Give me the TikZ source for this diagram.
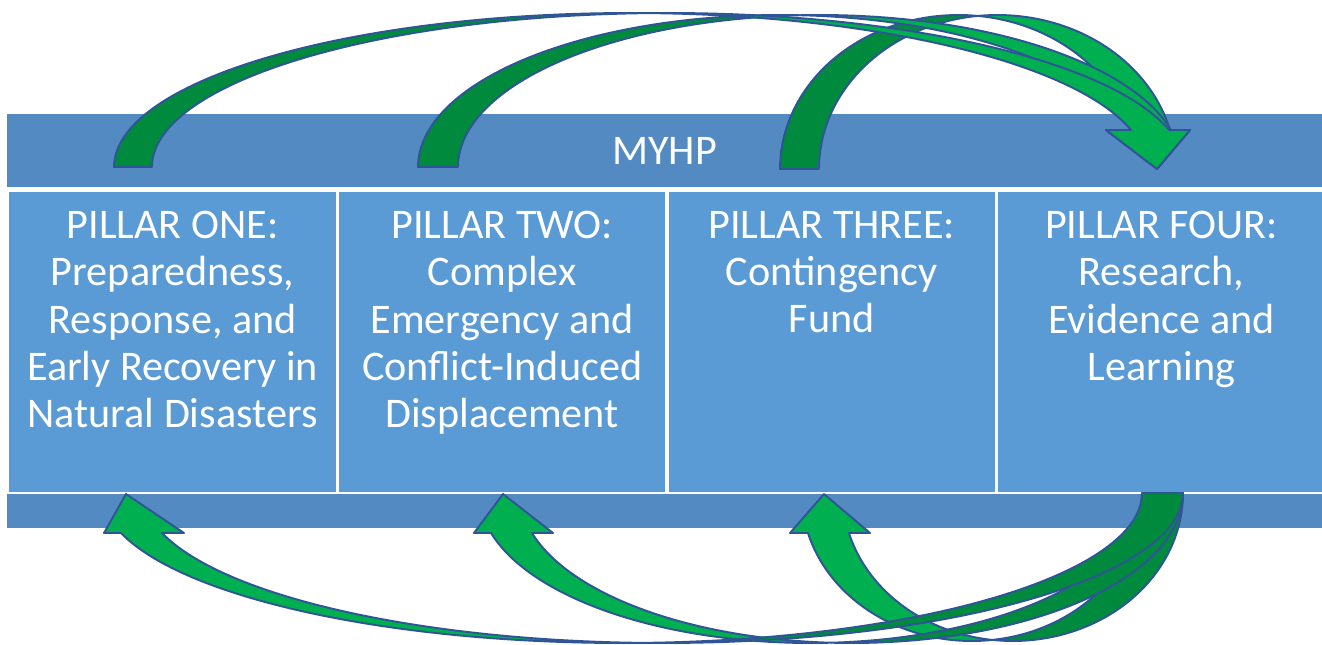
\documentclass[tikz,border=0pt]{standalone}
\usepackage{fontspec}
\setmainfont{Carlito}
\usepackage{xcolor}
\usetikzlibrary{positioning}

\definecolor{bandblue}{RGB}{83,138,193}
\definecolor{pillarblue}{RGB}{91,155,213}
\definecolor{arrowlight}{RGB}{0,176,80}
\definecolor{arrowdark}{RGB}{0,138,62}
\definecolor{arrowedge}{RGB}{47,85,151}

\begin{document}
\begin{tikzpicture}[
  x=0.02cm, y=-0.02cm,
  band/.style={rectangle, fill=bandblue, minimum width=26.3cm, inner sep=0pt, text=white, font=\fontsize{24}{27}\selectfont},
  pillar/.style={rectangle, fill=pillarblue, minimum width=6.528cm, minimum height=6.016cm, inner sep=0pt},
  pillartext/.style={align=center, inner sep=0pt, text=white, font=\fontsize{24}{26.8}\selectfont},
  back/.style={fill=arrowdark, draw=arrowedge, line width=1.1pt, line join=round},
  front/.style={fill=arrowlight, draw=arrowedge, line width=1.1pt, line join=round},
  every plot/.style={samples=60}
]
\useasboundingbox (0,0) rectangle (1322,645);
\clip (0,0) rectangle (1322,645);

\node[band, minimum height=1.47cm] (myhp) at (664.5,150.75) {MYHP};
\node[pillar] (pone) at (172.5,341.9) {};
\node[pillar, right=0.052cm of pone] (ptwo) {};
\node[pillar, right=0.052cm of ptwo] (pthree) {};
\node[pillar, right=0.052cm of pthree] (pfour) {};
\node[band, minimum height=0.674cm] (base) at (664.5,510.85) {};

\node[pillartext, below=0.40cm of pone.north] (ponetext) {PILLAR ONE:\\Preparedness,\\Response, and\\Early Recovery in\\Natural Disasters};
\node[pillartext, below=0.40cm of ptwo.north] (ptwotext) {PILLAR TWO:\\Complex\\Emergency and\\Conflict-Induced\\Displacement};
\node[pillartext, below=0.40cm of pthree.north] (pthreetext) {PILLAR THREE:\\Contingency\\Fund};
\node[pillartext, below=0.40cm of pfour.north] (pfourtext) {PILLAR FOUR:\\Research,\\Evidence and\\Learning};

% over the top, into pillar four
\filldraw[back] plot[domain=180:83.72, variable=\t] ({958.4+178.4*cos(\t)}, {169-154*sin(\t)})
  -- plot[domain=96.28:180, variable=\t] ({997.4+178.4*cos(\t)}, {169-154*sin(\t)}) -- cycle;
\filldraw[front] plot[domain=83.72:14.67, variable=\t] ({958.4+178.4*cos(\t)}, {169-154*sin(\t)})
  -- (1106,130) -- (1157,169) -- (1190,130)
  -- plot[domain=14.67:96.28, variable=\t] ({997.4+178.4*cos(\t)}, {169-154*sin(\t)}) -- cycle;

\filldraw[back] plot[domain=180:86.83, variable=\t] ({779.95+361.95*cos(\t)}, {167-152*sin(\t)})
  -- plot[domain=93.17:180, variable=\t] ({819.95+361.95*cos(\t)}, {167-152*sin(\t)}) -- cycle;
\filldraw[front] plot[domain=86.83:14.09, variable=\t] ({779.95+361.95*cos(\t)}, {167-152*sin(\t)})
  -- (1106,130) -- (1157,169) -- (1190,130)
  -- plot[domain=14.09:93.17, variable=\t] ({819.95+361.95*cos(\t)}, {167-152*sin(\t)}) -- cycle;

\filldraw[back] plot[domain=180:87.89, variable=\t] ({630.06+516.06*cos(\t)}, {167-154*sin(\t)})
  -- plot[domain=92.11:180, variable=\t] ({668.06+516.06*cos(\t)}, {167-154*sin(\t)}) -- cycle;
\filldraw[front] plot[domain=87.89:13.90, variable=\t] ({630.06+516.06*cos(\t)}, {167-154*sin(\t)})
  -- (1106,130) -- (1157,169) -- (1190,130)
  -- plot[domain=13.90:92.11, variable=\t] ({668.06+516.06*cos(\t)}, {167-154*sin(\t)}) -- cycle;

% under the bottom, out of pillar four
\filldraw[back] plot[domain=0:96.92, variable=\t] ({1012.8+170.2*cos(\t)}, {493+148*sin(\t)})
  -- plot[domain=83.08:0, variable=\t] ({971.8+170.2*cos(\t)}, {493+148*sin(\t)}) -- cycle;
\filldraw[front] plot[domain=96.92:164.32, variable=\t] ({1012.8+170.2*cos(\t)}, {493+148*sin(\t)})
  -- (870,533) -- (824,494) -- (790,533)
  -- plot[domain=164.32:83.08, variable=\t] ({971.8+170.2*cos(\t)}, {493+148*sin(\t)}) -- cycle;

\filldraw[back] plot[domain=0:93.55, variable=\t] ({851.5+331.5*cos(\t)}, {493+150*sin(\t)})
  -- plot[domain=86.45:0, variable=\t] ({810.5+331.5*cos(\t)}, {493+150*sin(\t)}) -- cycle;
\filldraw[front] plot[domain=93.55:164.53, variable=\t] ({851.5+331.5*cos(\t)}, {493+150*sin(\t)})
  -- (553,533) -- (503,494) -- (474,533)
  -- plot[domain=164.53:86.45, variable=\t] ({810.5+331.5*cos(\t)}, {493+150*sin(\t)}) -- cycle;

\filldraw[back] plot[domain=0:92.26, variable=\t] ({663.1+519.9*cos(\t)}, {493+150*sin(\t)})
  -- plot[domain=87.74:0, variable=\t] ({622.1+519.9*cos(\t)}, {493+150*sin(\t)}) -- cycle;
\filldraw[front] plot[domain=92.26:164.53, variable=\t] ({663.1+519.9*cos(\t)}, {493+150*sin(\t)})
  -- (184,533) -- (126,494) -- (104,533)
  -- plot[domain=164.53:87.74, variable=\t] ({622.1+519.9*cos(\t)}, {493+150*sin(\t)}) -- cycle;

\end{tikzpicture}
\end{document}
